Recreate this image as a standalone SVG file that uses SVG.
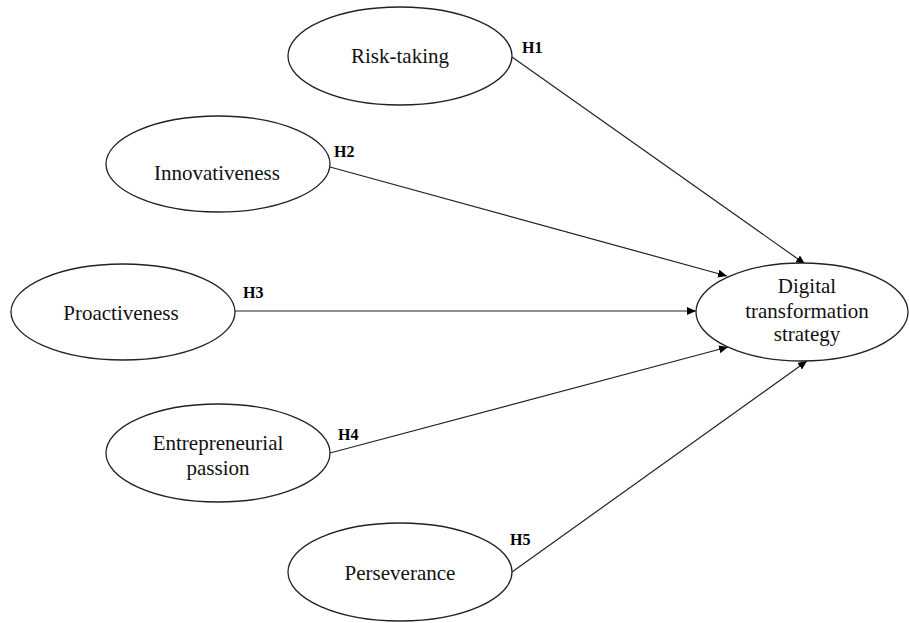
<svg xmlns="http://www.w3.org/2000/svg" width="909" height="623" viewBox="0 0 909 623">
<defs>
<marker id="arr" markerUnits="userSpaceOnUse" markerWidth="10" markerHeight="8" refX="9" refY="4" orient="auto">
<path d="M0,0 L9,4 L0,8 Z" fill="#000"/>
</marker>
<style>
.node ellipse{fill:#fff;stroke:#222;stroke-width:1.3}
.node text{font-family:"Liberation Serif","Times New Roman",serif;font-size:21px;fill:#111;text-anchor:middle}
.lbl{font-family:"Liberation Serif","Times New Roman",serif;font-size:16px;font-weight:bold;fill:#000}
.edges line{stroke:#222;stroke-width:1.2;marker-end:url(#arr)}
</style>
</defs>
<rect width="909" height="623" fill="#fff"/>
<g id="edges" class="edges">
<line x1="512" y1="57" x2="805" y2="264"/>
<line x1="330" y1="167" x2="727" y2="276"/>
<line x1="235" y1="311" x2="696" y2="311"/>
<line x1="330" y1="453" x2="728" y2="347"/>
<line x1="512" y1="572" x2="807" y2="361"/>
</g>
<g id="labels">
<text class="lbl" x="522" y="53">H1</text>
<text class="lbl" x="334" y="157">H2</text>
<text class="lbl" x="243" y="298">H3</text>
<text class="lbl" x="338" y="440">H4</text>
<text class="lbl" x="510" y="545">H5</text>
</g>
<g id="risk" class="node">
<ellipse cx="400" cy="56" rx="112" ry="49"/>
<text x="400" y="63">Risk-taking</text>
</g>
<g id="innov" class="node">
<ellipse cx="218" cy="164" rx="112" ry="48"/>
<text x="217" y="180">Innovativeness</text>
</g>
<g id="proact" class="node">
<ellipse cx="123" cy="312" rx="112" ry="48"/>
<text x="121" y="320">Proactiveness</text>
</g>
<g id="passion" class="node">
<ellipse cx="218" cy="453" rx="112" ry="49"/>
<text x="218" y="450">Entrepreneurial</text>
<text x="218" y="475">passion</text>
</g>
<g id="persev" class="node">
<ellipse cx="400" cy="572" rx="112" ry="49"/>
<text x="400" y="580">Perseverance</text>
</g>
<g id="dts" class="node">
<ellipse cx="802" cy="312" rx="106" ry="49"/>
<text x="807" y="293">Digital</text>
<text x="807" y="318">transformation</text>
<text x="807" y="341">strategy</text>
</g>
</svg>
